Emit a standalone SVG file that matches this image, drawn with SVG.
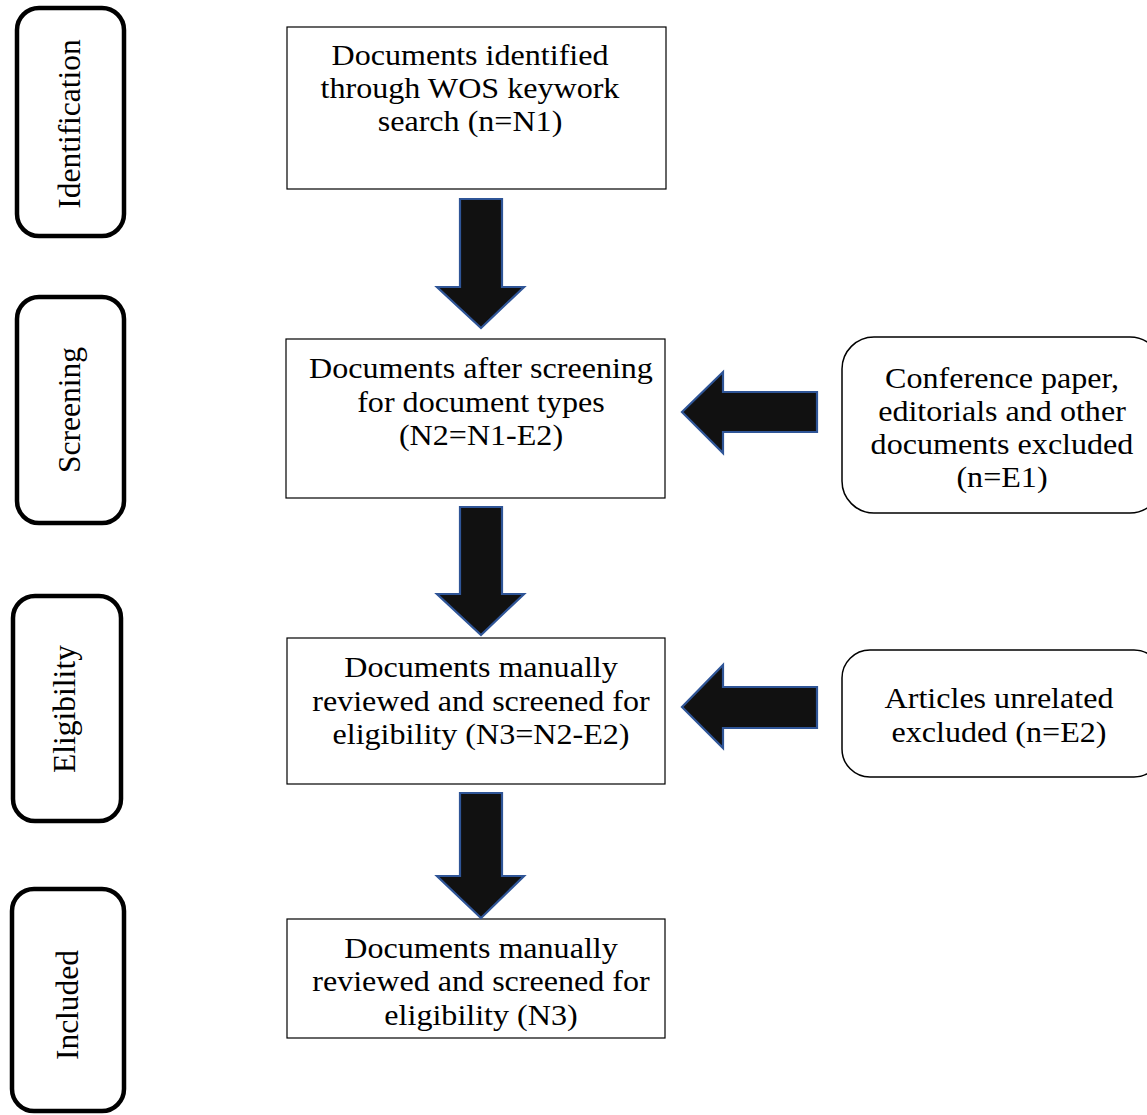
<svg xmlns="http://www.w3.org/2000/svg" width="1147" height="1115" viewBox="0 0 1147 1115">
<style>
.stage{fill:#fff;stroke:#000;stroke-width:4.5}
.box{fill:#fff;stroke:#000;stroke-width:1.2}
.side{fill:#fff;stroke:#000;stroke-width:1.5}
.arr{fill:#111;stroke:#2F5597;stroke-width:2.2;stroke-linejoin:miter}
text{font-family:"Liberation Serif","Times New Roman",serif;font-size:30px;fill:#000;text-anchor:middle}
.lbl{font-size:31.5px}
</style>
<rect width="1147" height="1115" fill="#fff"/>
<g id="stage-identification"><rect class="stage" x="17" y="8" width="107" height="228" rx="22"/><text class="lbl" transform="translate(80,124) rotate(-90)">Identification</text></g>
<g id="stage-screening"><rect class="stage" x="17" y="297" width="107" height="226" rx="22"/><text class="lbl" transform="translate(80,410) rotate(-90)">Screening</text></g>
<g id="stage-eligibility"><rect class="stage" x="13" y="596" width="108" height="225" rx="22"/><text class="lbl" transform="translate(75,709) rotate(-90)">Eligibility</text></g>
<g id="stage-included"><rect class="stage" x="12" y="889" width="112" height="222" rx="22"/><text class="lbl" transform="translate(78,1005) rotate(-90)">Included</text></g>
<g id="n1"><rect class="box" x="287" y="27" width="379" height="162"/><g transform="translate(470,0) scale(1.07,1)"><text x="0" y="65">Documents identified</text><text x="0" y="98">through WOS keywork</text><text x="0" y="131">search (n=N1)</text></g></g>
<g id="n2"><rect class="box" x="286" y="339" width="379" height="159"/><g transform="translate(481,0) scale(1.07,1)"><text x="0" y="378">Documents after screening</text><text x="0" y="412">for document types</text><text x="0" y="445">(N2=N1-E2)</text></g></g>
<g id="n3"><rect class="box" x="287" y="638" width="378" height="146"/><g transform="translate(481,0) scale(1.07,1)"><text x="0" y="677">Documents manually</text><text x="0" y="711">reviewed and screened for</text><text x="0" y="744">eligibility (N3=N2-E2)</text></g></g>
<g id="n4"><rect class="box" x="287" y="919" width="378" height="119"/><g transform="translate(481,0) scale(1.07,1)"><text x="0" y="958">Documents manually</text><text x="0" y="991">reviewed and screened for</text><text x="0" y="1025">eligibility (N3)</text></g></g>
<g id="e1"><rect class="side" x="842" y="337" width="320" height="176" rx="32"/><g transform="translate(1002,0) scale(1.07,1)"><text x="0" y="388">Conference paper,</text><text x="0" y="421">editorials and other</text><text x="0" y="454">documents excluded</text><text x="0" y="487">(n=E1)</text></g></g>
<g id="e2"><rect class="side" x="842" y="650" width="320" height="127" rx="28"/><g transform="translate(999,0) scale(1.07,1)"><text x="0" y="708">Articles unrelated</text><text x="0" y="742">excluded (n=E2)</text></g></g>
<g id="connectors">
<polygon class="arr" points="460,199 502,199 502,287 524,287 481,328 437,287 460,287"/>
<polygon class="arr" points="460,507 502,507 502,594 524,594 481,635 437,594 460,594"/>
<polygon class="arr" points="460,793 502,793 502,876 524,876 481,918 437,876 460,876"/>
<polygon class="arr" points="817,392 817,432 723,432 723,453 682,412 723,372 723,392"/>
<polygon class="arr" points="817,687 817,728 723,728 723,748 682,707 723,665 723,687"/>
</g>
</svg>
